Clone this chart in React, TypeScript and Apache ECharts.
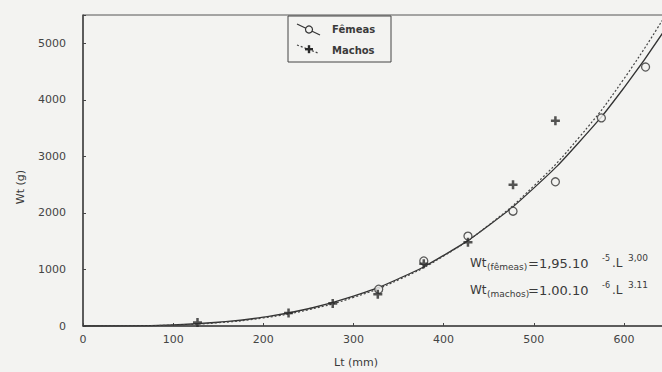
import React, { useEffect, useRef } from "react";
import * as echarts from "echarts";

const femLength = [328, 378, 427, 477, 524, 575, 624];
const femWeight = [650, 1150, 1590, 2030, 2550, 3680, 4580];
const maleLength = [127, 228, 277, 327, 378, 427, 477, 524];
const maleWeight = [60, 230, 400, 560, 1100, 1480, 2500, 3630];

// Fitted curves
const curveLength = [0, 50, 100, 150, 200, 250, 300, 350, 400, 450, 500, 550, 600, 650];
const femCurve = [0, 2, 20, 66, 156, 305, 527, 836, 1248, 1777, 2438, 3245, 4212, 5355];
const maleCurve = [0, 2, 17, 58, 143, 287, 506, 817, 1237, 1785, 2476, 3330, 4370, 5600];

const xTicks = [0, 100, 200, 300, 400, 500, 600];
const yTicks = [0, 1000, 2000, 3000, 4000, 5000];

const FONT = "'DejaVu Sans', Verdana, sans-serif";
const INK = "#3a3a3a";
const BG = "#f3f3f1";

export default function App() {
  const ref = useRef<HTMLDivElement>(null);
  useEffect(() => {
    if (!ref.current) return;
    const chart = echarts.init(ref.current, undefined, { renderer: "svg" });
    const plus =
      "path://M3.6,0 L6.4,0 L6.4,3.6 L10,3.6 L10,6.4 L6.4,6.4 L6.4,10 L3.6,10 L3.6,6.4 L0,6.4 L0,3.6 L3.6,3.6 Z";
    const t = (x: number, y: number, text: string, size: number, extra: any = {}) => ({
      type: "text",
      x,
      y,
      style: { text, fill: INK, font: `${extra.weight || "normal"} ${size}px ${FONT}`, textVerticalAlign: "middle", ...extra.style },
      ...extra.el,
    });
    chart.setOption({
      animation: false,
      backgroundColor: BG,
      grid: { left: 83, top: 15, right: 31, bottom: 46, show: true, borderColor: "#555", borderWidth: 1 },
      xAxis: {
        type: "value",
        min: 0,
        max: 650,
        interval: 100,
        axisLine: { show: true, lineStyle: { color: "#444", width: 1.5 } },
        axisTick: { show: true, inside: true, length: 3, lineStyle: { color: "#444" } },
        splitLine: { show: false },
        axisLabel: {
          color: "#444",
          fontFamily: FONT,
          fontSize: 11,
          margin: 8,
          formatter: (v: number) => (xTicks.includes(v) ? String(v) : ""),
        },
      },
      yAxis: {
        type: "value",
        min: 0,
        max: 5500,
        interval: 1000,
        axisLine: { show: true, lineStyle: { color: "#444", width: 1.5 } },
        axisTick: { show: true, inside: true, length: 3, lineStyle: { color: "#444" } },
        splitLine: { show: false },
        axisLabel: {
          color: "#444",
          fontFamily: FONT,
          fontSize: 11,
          margin: 17,
          formatter: (v: number) => (yTicks.includes(v) ? String(v) : ""),
        },
      },
      series: [
        {
          name: "Fêmeas curve",
          type: "line",
          smooth: true,
          showSymbol: false,
          data: curveLength.map((l, i) => [l, femCurve[i]]),
          lineStyle: { color: "#333", width: 1.3 },
          z: 2,
        },
        {
          name: "Machos curve",
          type: "line",
          smooth: true,
          showSymbol: false,
          data: curveLength.map((l, i) => [l, maleCurve[i]]),
          lineStyle: { color: "#444", width: 1.2, type: [2, 2] },
          z: 2,
        },
        {
          name: "Fêmeas",
          type: "scatter",
          symbol: "circle",
          symbolSize: 8,
          data: femLength.map((l, i) => [l, femWeight[i]]),
          itemStyle: { color: BG, borderColor: "#333", borderWidth: 1.3 },
          z: 3,
        },
        {
          name: "Machos",
          type: "scatter",
          symbol: plus,
          symbolSize: 9,
          data: maleLength.map((l, i) => [l, maleWeight[i]]),
          itemStyle: { color: "#2a2a2a" },
          z: 4,
        },
      ],
      graphic: [
        // legend box
        { type: "rect", shape: { x: 288, y: 16, width: 103, height: 46 }, style: { fill: BG, stroke: "#444", lineWidth: 1 }, z: 10 },
        { type: "line", shape: { x1: 297, y1: 24, x2: 320, y2: 35 }, style: { stroke: "#333", lineWidth: 1.2 }, z: 11 },
        { type: "circle", shape: { cx: 309, cy: 29.5, r: 3.5 }, style: { fill: BG, stroke: "#333", lineWidth: 1.2 }, z: 12 },
        t(332, 29, "Fêmeas", 10, { weight: "bold", el: { z: 12 } }),
        { type: "line", shape: { x1: 297, y1: 45, x2: 318, y2: 53 }, style: { stroke: "#444", lineWidth: 1.2, lineDash: [2, 2] }, z: 11 },
        { type: "rect", shape: { x: 305, y: 48, width: 8, height: 2.4 }, style: { fill: "#2a2a2a" }, z: 12 },
        { type: "rect", shape: { x: 307.8, y: 45.2, width: 2.4, height: 8 }, style: { fill: "#2a2a2a" }, z: 12 },
        t(332, 50, "Machos", 10, { weight: "bold", el: { z: 12 } }),
        // axis names
        t(334, 362, "Lt (mm)", 11),
        { type: "text", x: 20, y: 187, rotation: Math.PI / 2, style: { text: "Wt (g)", fill: INK, font: `11px ${FONT}`, textAlign: "center", textVerticalAlign: "middle" } },
        // equations
        t(470, 263, "Wt", 12),
        t(487, 267, "(fêmeas)", 9),
        t(528, 263, "=1,95.10", 13),
        t(602, 258, "-5", 8),
        t(612, 263, ".L", 12),
        t(628, 258, "3,00", 9),
        t(470, 290, "Wt", 12),
        t(487, 294, "(machos)", 9),
        t(528, 290, "=1.00.10", 13),
        t(602, 285, "-6", 8),
        t(612, 290, ".L", 12),
        t(628, 285, "3.11", 9),
      ],
    });
    return () => chart.dispose();
  }, []);
  return (
    <div style={{ position: "fixed", left: 0, top: 0, width: 662, height: 372, overflow: "hidden" }}>
      <div ref={ref} style={{ width: 700, height: 372 }} />
    </div>
  );
}
